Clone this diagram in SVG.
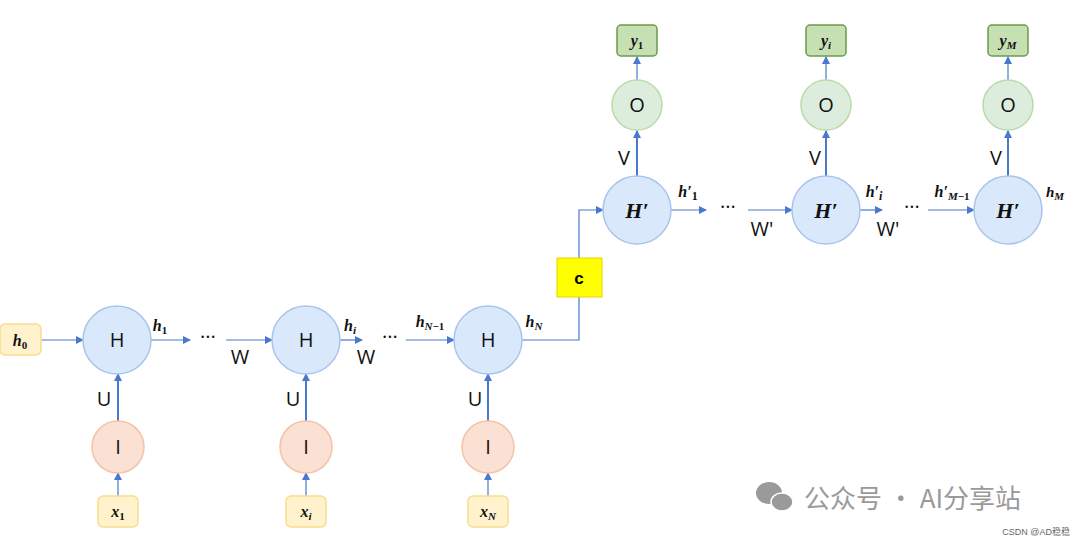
<svg xmlns="http://www.w3.org/2000/svg" width="1080" height="542" viewBox="0 0 1080 542">
<style>
.H{fill:#dae8fc;stroke:#a9c4eb;stroke-width:1.5}
.I{fill:#fbe0d4;stroke:#f4c3a8;stroke-width:1.5}
.O{fill:#d5e8d4;stroke:#b9dba8;stroke-width:1.5;fill-opacity:.8}
.X{fill:#fff2cc;stroke:#f9dc8c;stroke-width:1.5}
.Y{fill:#c6e0b4;stroke:#6a9a4c;stroke-width:1.5}
.t{font-family:"Open Sans","Liberation Sans",sans-serif;font-size:20px;fill:#111;text-anchor:middle}
.m{font-family:"Liberation Serif",serif;font-style:italic;font-weight:bold;fill:#111;text-anchor:middle}
.n{font-style:normal}
.e{stroke:#4a78cc;stroke-width:1.2;fill:none}
.b{stroke-width:2}
</style>
<defs><marker id="a" markerWidth="8" markerHeight="8" refX="7" refY="4" orient="auto" markerUnits="userSpaceOnUse"><path d="M0,0L8,4L0,8z" fill="#4a78cc"/></marker></defs>
<g id="connectors">
<path class="e" d="M41,340H83" marker-end="url(#a)"/>
<path class="e" d="M151,340H190" marker-end="url(#a)"/>
<path class="e" d="M226,340H272" marker-end="url(#a)"/>
<path class="e" d="M340,340H362" marker-end="url(#a)"/>
<path class="e" d="M406,340H454" marker-end="url(#a)"/>
<path class="e" d="M522,340H579V258"/>
<path class="e" d="M579,258V210H603" marker-end="url(#a)"/>
<path class="e" d="M671,210H706" marker-end="url(#a)"/>
<path class="e" d="M748,210H792" marker-end="url(#a)"/>
<path class="e" d="M860,210H882" marker-end="url(#a)"/>
<path class="e" d="M928,210H974" marker-end="url(#a)"/>
<path class="e b" d="M118,421V374" marker-end="url(#a)"/>
<path class="e b" d="M306,421V374" marker-end="url(#a)"/>
<path class="e b" d="M488,421V374" marker-end="url(#a)"/>
<path class="e" d="M118,497V473" marker-end="url(#a)"/>
<path class="e" d="M306,497V473" marker-end="url(#a)"/>
<path class="e" d="M488,497V473" marker-end="url(#a)"/>
<path class="e b" d="M637,176V131" marker-end="url(#a)"/>
<path class="e b" d="M826,176V131" marker-end="url(#a)"/>
<path class="e b" d="M1008,176V131" marker-end="url(#a)"/>
<path class="e" d="M637,80V57" marker-end="url(#a)"/>
<path class="e" d="M826,80V57" marker-end="url(#a)"/>
<path class="e" d="M1008,80V57" marker-end="url(#a)"/>
</g>
<g id="h0"><rect class="X" x="0" y="324" width="41" height="31" rx="5"/><text class="m" x="20" y="346" font-size="16">h<tspan class="n" font-size="11" dy="3">0</tspan></text></g>
<g id="H1"><circle class="H" cx="117" cy="340" r="34"/><text class="t" x="117" y="347">H</text></g>
<g id="H2"><circle class="H" cx="306" cy="340" r="34"/><text class="t" x="306" y="347">H</text></g>
<g id="H3"><circle class="H" cx="488" cy="340" r="34"/><text class="t" x="488" y="347">H</text></g>
<g id="I1"><circle class="I" cx="118" cy="447" r="26"/><text class="t" x="118" y="454">I</text></g>
<g id="I2"><circle class="I" cx="306" cy="447" r="26"/><text class="t" x="306" y="454">I</text></g>
<g id="I3"><circle class="I" cx="488" cy="447" r="26"/><text class="t" x="488" y="454">I</text></g>
<g id="x1"><rect class="X" x="98" y="496" width="40" height="31" rx="5"/><text class="m" x="118" y="517" font-size="16">x<tspan class="n" font-size="11" dy="3">1</tspan></text></g>
<g id="xi"><rect class="X" x="286" y="496" width="40" height="31" rx="5"/><text class="m" x="306" y="517" font-size="16">x<tspan font-size="11" dy="3">i</tspan></text></g>
<g id="xN"><rect class="X" x="468" y="496" width="40" height="31" rx="5"/><text class="m" x="488" y="517" font-size="16">x<tspan font-size="11" dy="3">N</tspan></text></g>
<g id="c"><rect x="557" y="258" width="45" height="39" fill="#ffff00" stroke="#e6d600"/><text x="579" y="284" font-family="Liberation Sans,sans-serif" font-weight="bold" font-size="17" text-anchor="middle">c</text></g>
<g id="Hp1"><circle class="H" cx="637" cy="210" r="34"/><text class="m" x="637" y="218" font-size="22" font-weight="normal">H′</text></g>
<g id="Hp2"><circle class="H" cx="826" cy="210" r="34"/><text class="m" x="826" y="218" font-size="22" font-weight="normal">H′</text></g>
<g id="Hp3"><circle class="H" cx="1008" cy="210" r="34"/><text class="m" x="1008" y="218" font-size="22" font-weight="normal">H′</text></g>
<g id="O1"><circle class="O" cx="637" cy="105" r="25"/><text class="t" x="637" y="112">O</text></g>
<g id="O2"><circle class="O" cx="826" cy="105" r="25"/><text class="t" x="826" y="112">O</text></g>
<g id="O3"><circle class="O" cx="1008" cy="105" r="25"/><text class="t" x="1008" y="112">O</text></g>
<g id="y1"><rect class="Y" x="617" y="25" width="40" height="31" rx="4"/><text class="m" x="637" y="46" font-size="16">y<tspan class="n" font-size="11" dy="3">1</tspan></text></g>
<g id="yi"><rect class="Y" x="806" y="25" width="40" height="31" rx="4"/><text class="m" x="826" y="46" font-size="16">y<tspan font-size="11" dy="3">i</tspan></text></g>
<g id="yM"><rect class="Y" x="988" y="25" width="40" height="31" rx="4"/><text class="m" x="1008" y="46" font-size="16">y<tspan font-size="11" dy="3">M</tspan></text></g>
<g id="labels">
<text class="t" x="104" y="406" font-size="18">U</text><text class="t" x="293" y="406" font-size="18">U</text><text class="t" x="475" y="406" font-size="18">U</text>
<text class="t" x="624" y="165" font-size="18">V</text><text class="t" x="815" y="165" font-size="18">V</text><text class="t" x="996" y="165" font-size="18">V</text>
<text class="t" x="240" y="364" font-size="18">W</text><text class="t" x="366" y="364" font-size="18">W</text>
<text class="t" x="762" y="236" font-size="18">W'</text><text class="t" x="888" y="236" font-size="18">W'</text>
<text class="t" x="208" y="344" font-size="16">···</text><text class="t" x="390" y="344" font-size="16">···</text>
<text class="t" x="728" y="214" font-size="16">···</text><text class="t" x="912" y="214" font-size="16">···</text>
<text class="m" x="160" y="331" font-size="16">h<tspan class="n" font-size="11" dy="3">1</tspan></text>
<text class="m" x="350" y="331" font-size="16">h<tspan font-size="11" dy="3">i</tspan></text>
<text class="m" x="430" y="327" font-size="16">h<tspan font-size="11" dy="3">N</tspan><tspan class="n" font-size="11">−1</tspan></text>
<text class="m" x="534" y="327" font-size="16">h<tspan font-size="11" dy="3">N</tspan></text>
<text class="m" x="688" y="197" font-size="16">h′<tspan class="n" font-size="12" dy="3">1</tspan></text>
<text class="m" x="874" y="197" font-size="16">h′<tspan font-size="12" dy="3">i</tspan></text>
<text class="m" x="952" y="197" font-size="16">h′<tspan font-size="11" dy="3">M</tspan><tspan class="n" font-size="11">−1</tspan></text>
<text class="m" x="1055" y="197" font-size="15" font-weight="normal">h<tspan font-size="11" dy="3">M</tspan></text>
</g>
<g id="watermark" fill="#9a9a9a">
<ellipse cx="769" cy="493" rx="13" ry="11"/><ellipse cx="782" cy="502" rx="11" ry="9" stroke="#fff" stroke-width="1.5"/>
<text x="804" y="508" font-family="Noto Sans CJK SC,sans-serif" font-size="26">公众号 · AI分享站</text>
<text x="1070" y="535" font-family="Liberation Sans,Noto Sans CJK SC,sans-serif" font-size="9" text-anchor="end" fill="#666">CSDN @AD稳稳</text>
</g>
</svg>
